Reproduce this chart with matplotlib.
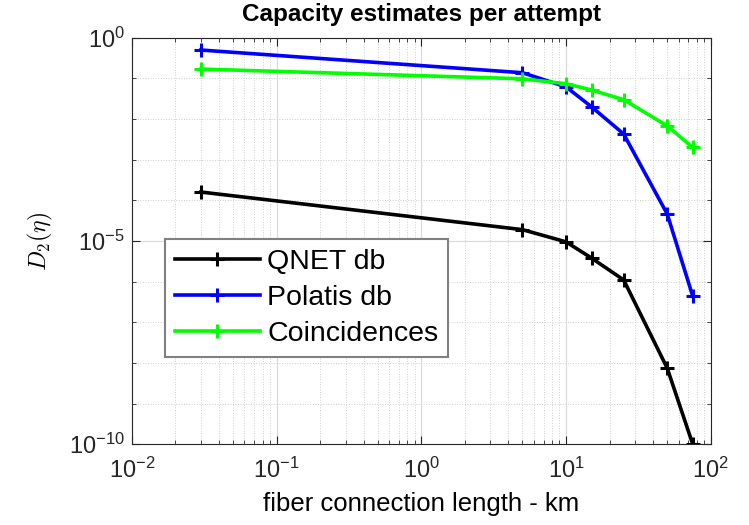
import numpy as np
import matplotlib
matplotlib.use("Agg")
import matplotlib.pyplot as plt
from matplotlib.ticker import FixedLocator, LogLocator, NullFormatter

plt.rcParams["font.family"] = ["Liberation Sans", "DejaVu Sans"]
plt.rcParams["mathtext.fontset"] = "cm"

# fiber length (km) and capacity estimates
length_km = [0.03, 5, 10, 15, 25, 50, 75]
qnet_db = [1.6e-4, 1.9e-5, 9.5e-6, 3.8e-6, 1.1e-6, 7.4e-9, 1e-10]
polatis_db = [0.5, 0.138, 0.062, 0.02, 0.0043, 4.6e-5, 4.4e-7]
coincidences = [0.17, 0.098, 0.074, 0.052, 0.03, 0.0068, 0.002]

labels = ["QNET db", "Polatis db", "Coincidences"]
colors = ["black", "#0000ff", "#00ff00"]

fig = plt.figure(figsize=(7.49, 5.25), dpi=100)
ax = fig.add_axes([0.176, 0.154, 0.773, 0.774])

for ys, lab, c in zip([qnet_db, polatis_db, coincidences], labels, colors):
    ax.plot(length_km, ys, color=c, lw=2.6, marker="+", ms=10, mew=2.2, label=lab)

ax.set_xscale("log")
ax.set_yscale("log")
ax.set_xlim(1e-2, 1e2)
ax.set_ylim(1e-10, 1e0)

ax.set_xticks([1e-2, 1e-1, 1e0, 1e1, 1e2])
ax.set_xticklabels([r"$\mathregular{10^{-2}}$", r"$\mathregular{10^{-1}}$",
                    r"$\mathregular{10^{0}}$", r"$\mathregular{10^{1}}$",
                    r"$\mathregular{10^{2}}$"])
ax.xaxis.set_minor_locator(LogLocator(base=10, subs=np.arange(2, 10), numticks=20))
ax.xaxis.set_minor_formatter(NullFormatter())

ax.set_yticks([1e-10, 1e-5, 1e0])
ax.set_yticklabels([r"$\mathregular{10^{-10}}$", r"$\mathregular{10^{-5}}$",
                    r"$\mathregular{10^{0}}$"])
ax.yaxis.set_minor_locator(FixedLocator(10.0 ** np.arange(-10, 1)))
ax.yaxis.set_minor_formatter(NullFormatter())

ax.tick_params(which="both", direction="in", top=True, right=True,
               labelsize=17, color="#262626", labelcolor="#262626")
ax.tick_params(which="major", length=6)
ax.tick_params(which="minor", length=3)
ax.tick_params(axis="x", pad=10)
ax.tick_params(axis="y", pad=5)

ax.grid(True, which="major", color="#d9d9d9", lw=0.8)
ax.grid(True, which="minor", color="#cfcfcf", lw=0.7, ls=":")
ax.set_axisbelow(True)
for s in ax.spines.values():
    s.set_color("#262626")
    s.set_linewidth(0.8)

ax.set_title("Capacity estimates per attempt", fontsize=17.5, fontweight="bold", pad=12)
ax.set_xlabel("fiber connection length - km", fontsize=18.5, labelpad=6)
ax.set_ylabel(r"$D_2(\eta)$", fontsize=17, labelpad=10)

leg = ax.legend(loc="upper left", bbox_to_anchor=(0.057, 0.505), fontsize=20.5,
                handlelength=3.0, handletextpad=0.25, labelspacing=0.35,
                borderpad=0.35, borderaxespad=0, fancybox=False, framealpha=1,
                edgecolor="#808080")
leg.get_frame().set_linewidth(1.5)

fig.savefig("out.png", dpi=100)
